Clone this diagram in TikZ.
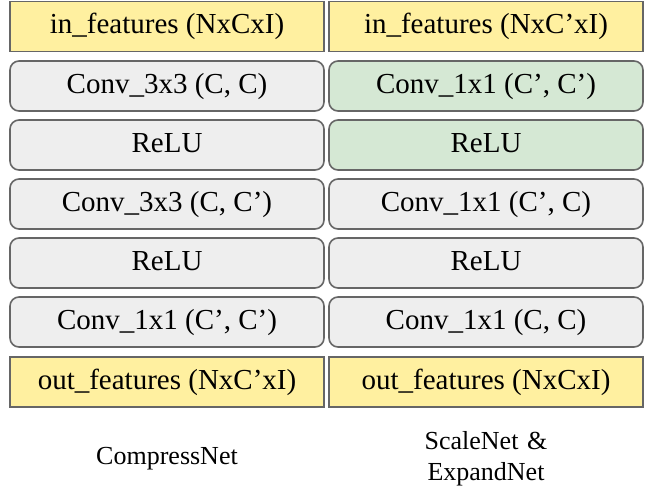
\documentclass[tikz,border=0pt]{standalone}
\usepackage{fontspec}
\setmainfont{Liberation Serif}
\definecolor{featfill}{HTML}{FFF0A0}
\definecolor{layerfill}{HTML}{EEEEEE}
\definecolor{greenfill}{HTML}{D5E8D4}
\definecolor{edge}{HTML}{666666}
\tikzset{
  blk/.style={draw=edge, line width=1.6pt, minimum width=314pt, minimum height=50pt,
    inner sep=0pt, font=\fontsize{29}{34}\selectfont, anchor=center,
    text height=22pt, text depth=8pt},
  feat/.style={blk, fill=featfill},
  layer/.style={blk, fill=layerfill, rounded corners=9pt},
  glayer/.style={blk, fill=greenfill, rounded corners=9pt},
  caption/.style={font=\fontsize{26}{31}\selectfont, align=center, text width=250pt}
}
\begin{document}
\begin{tikzpicture}[x=1pt, y=-1pt]
\useasboundingbox (0,0) rectangle (645,488);
% left column: CompressNet
\node[feat]  (l0) at (167, 26.5) {in\_features (NxCxI)};
\node[layer] (l1) at (167, 86)  {Conv\_3x3 (C, C)};
\node[layer] (l2) at (167, 145) {ReLU};
\node[layer] (l3) at (167, 204) {Conv\_3x3 (C, C’)};
\node[layer] (l4) at (167, 263) {ReLU};
\node[layer] (l5) at (167, 322) {Conv\_1x1 (C’, C’)};
\node[feat]  (l6) at (167, 382) {out\_features (NxC’xI)};
% right column: ScaleNet & ExpandNet
\node[feat]   (r0) at (486, 26.5) {in\_features (NxC’xI)};
\node[glayer] (r1) at (486, 86)  {Conv\_1x1 (C’, C’)};
\node[glayer] (r2) at (486, 145) {ReLU};
\node[layer]  (r3) at (486, 204) {Conv\_1x1 (C’, C)};
\node[layer]  (r4) at (486, 263) {ReLU};
\node[layer]  (r5) at (486, 322) {Conv\_1x1 (C, C)};
\node[feat]   (r6) at (486, 382) {out\_features (NxCxI)};
% captions
\node[caption] (cl) at (167, 459) {CompressNet};
\node[caption] (cr) at (486, 459) {ScaleNet \&\\ExpandNet};
\end{tikzpicture}
\end{document}
